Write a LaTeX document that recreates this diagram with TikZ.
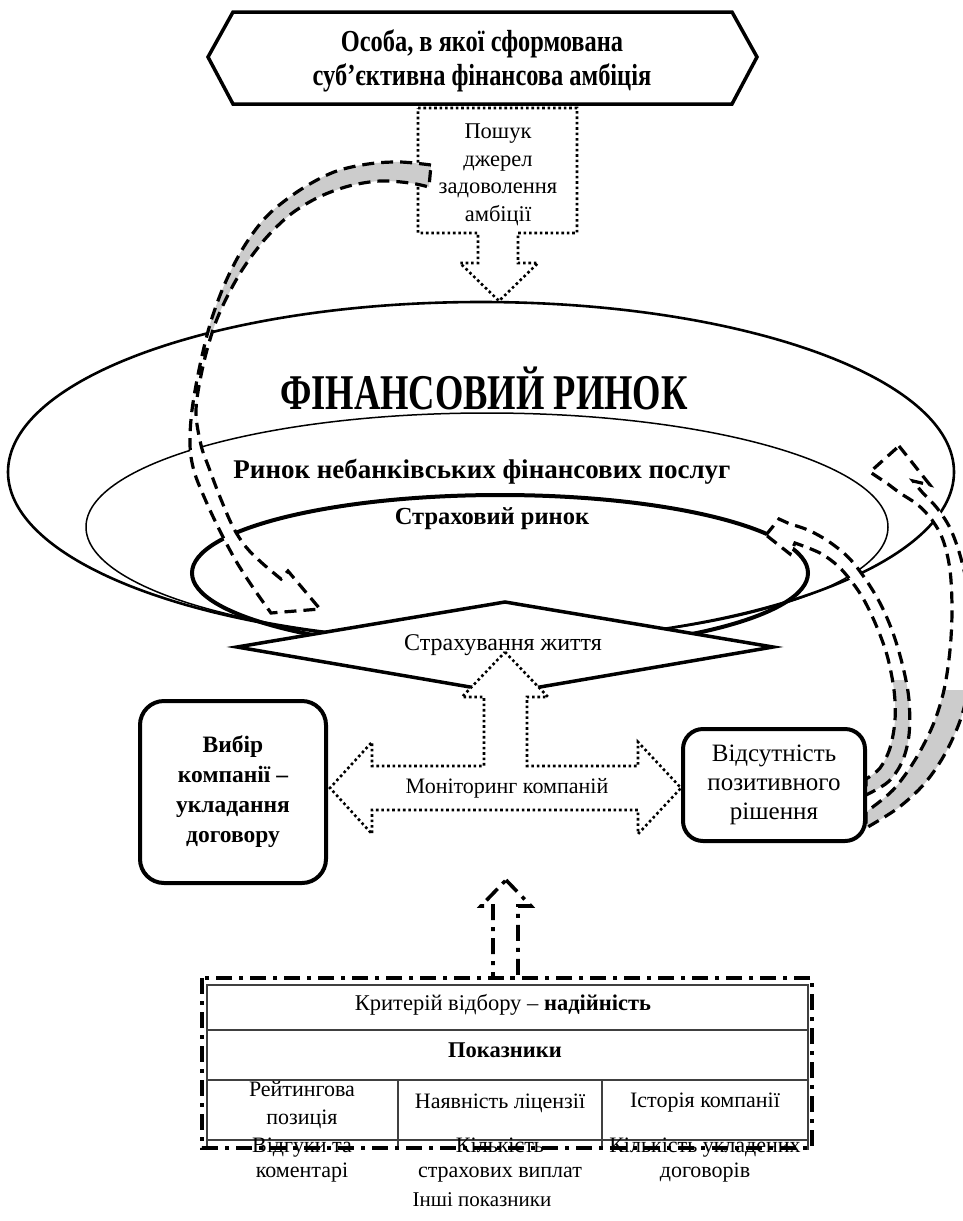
\documentclass[tikz,border=0pt]{standalone}
\usepackage{fontspec}
\setmainfont{Liberation Serif}
\newfontfamily\condA{Liberation Serif}[FakeStretch=0.73]
\newfontfamily\condB{Liberation Serif}[FakeStretch=0.8]
\usetikzlibrary{calc}
\newcommand\fsz[2]{\fontsize{#1}{#2}\selectfont}
\begin{document}
\begin{tikzpicture}[x=1pt,y=-1pt,
  heavy/.style={line width=3.5pt, line join=miter},
  dashline/.style={line width=3.2pt, dash pattern=on 12pt off 7pt, line join=miter},
  dotline/.style={line width=2.6pt, dash pattern=on 2.6pt off 2.8pt},
  dashdot/.style={line width=3.6pt, dash pattern=on 16pt off 7pt on 4pt off 7pt},
  tline/.style={line width=1.1pt, draw=black!75},
  greyfill/.style={fill=black!20},
]
\clip (0,0) rectangle (963,1221);
\fill[white] (0,0) rectangle (963,1221);

% top hexagon
\draw[heavy] (208,57) -- (233,12) -- (732,12) -- (757,57) -- (732,104) -- (233,104) -- cycle;

% dotted search arrow
\draw[dotline, fill=white] (418,108) -- (577,108) -- (577,233) -- (518,233) -- (518,263) -- (538,263) -- (499,301) -- (460,263) -- (478,263) -- (478,233) -- (418,233) -- cycle;

% ellipses
\draw[line width=2.6pt] (481,472) ellipse [x radius=473, y radius=170];
\draw[line width=1.5pt] (487,527) ellipse [x radius=401, y radius=114];
\draw[line width=4pt] (500,573) ellipse [x radius=308, y radius=78];

% curved block arrow A
\path[save path=\arrA] (431,165) -- plot[smooth, tension=0.55] coordinates {(431,165) (400,162) (368,164) (334,172) (300,190) (268,215) (245,245) (226,281) (211,321) (200,365) (192,410) (190,445) (194,471) (205,499) (219,529) (236,561) (254,589) (271,613)} -- (320,609) -- (288,571) -- (281,579) -- plot[smooth, tension=0.55] coordinates {(281,579) (262,563) (246,547) (233,527) (220,497) (209,468) (201,445) (196,410) (203,366) (214,327) (227,297) (244,267) (266,238) (291,214) (319,197) (349,186) (380,181) (410,183) (429,187)} -- cycle;
\fill[greyfill, use path=\arrA];
\begin{scope}
  \path[clip, use path=\arrA];
  \fill[white] (481,472) ellipse [x radius=473, y radius=170];
\end{scope}
\draw[dashline, use path=\arrA];

% curved block arrow B
\path[save path=\arrB] (766,535) -- (779,519) -- (790,524) -- plot[smooth, tension=0.55] coordinates {(790,524) (808,530) (828,541) (848,557) (864,577) (880,603) (893,633) (903,667) (909,700) (909,735) (902,762) (888,782) (866,795)} -- (866,779) -- plot[smooth, tension=0.55] coordinates {(866,779) (880,768) (890,748) (895,720) (894,690) (887,655) (876,625) (864,600) (852,582) (838,566) (820,553) (795,543)} -- (790,554) -- cycle;
\fill[greyfill, use path=\arrB];
\begin{scope}
  \path[clip, use path=\arrB];
  \fill[white] (481,472) ellipse [x radius=473, y radius=170];
  \fill[white] (0,0) rectangle (963,680);
\end{scope}
\draw[dashline, use path=\arrB];

% curved block arrow C
\path[save path=\arrC] (899,446) -- (930,485) -- (913,481) -- plot[smooth, tension=0.55] coordinates {(913,481) (922,492) (937,508) (950,528) (960,555) (968,590) (972,630) (970,675) (962,715) (946,752) (925,783) (898,808) (866,828)} -- (866,812) -- plot[smooth, tension=0.55] coordinates {(866,812) (893,790) (915,760) (933,725) (944,690) (950,650) (952,610) (950,570) (943,540) (932,520) (918,505) (900,493) (888,484)} -- (870,472) -- cycle;
\fill[greyfill, use path=\arrC];
\begin{scope}
  \path[clip, use path=\arrC];
  \fill[white] (481,472) ellipse [x radius=473, y radius=170];
  \fill[white] (0,0) rectangle (963,690);
\end{scope}
\draw[dashline, use path=\arrC];

% diamond
\draw[heavy, fill=white] (237,647) -- (505,602) -- (773,647) -- (505,693) -- cycle;

% dotted left-right-up arrow
\draw[dotline, fill=white] (505,652) -- (548,697) -- (527,697) -- (527,766) -- (638,766) -- (638,742) -- (681,788) -- (638,834) -- (638,810) -- (372,810) -- (372,834) -- (330,788) -- (372,742) -- (372,766) -- (484,766) -- (484,697) -- (462,697) -- cycle;

% side boxes
\node[draw, line width=4pt, rounded corners=24pt, minimum width=186pt, minimum height=182pt, align=center, font=\fsz{23.5}{30}\bfseries] (choice) at (233,792) {Вибір\\компанії –\\укладання\\договору};
\node[draw, line width=4pt, rounded corners=20pt, minimum width=182pt, minimum height=112pt, align=center, font=\fsz{25}{29}] (noresult) at (774,785) {Відсутність\\позитивного\\рішення};

% texts
\node[font=\condB\fsz{30.5}{34}\bfseries, align=center] (person) at (482,61) {Особа, в якої сформована\\суб’єктивна фінансова амбіція};
\node[font=\fsz{22.5}{27.5}, align=center] (search) at (498,175) {Пошук\\джерел\\задоволення\\амбіції};
\node[font=\condA\fsz{50}{50}\bfseries] (finmarket) at (484,388) {ФІНАНСОВИЙ РИНОК};
\node[font=\fsz{27}{30}\bfseries] (nonbank) at (482,472) {Ринок небанківських фінансових послуг};
\node[font=\fsz{24.5}{28}\bfseries] (insmarket) at (492,519) {Страховий ринок};
\node[font=\fsz{24}{28}] (life) at (503,645) {Страхування життя};
\node[font=\fsz{22}{26}] (monitor) at (507,788) {Моніторинг компаній};

% table
\draw[tline] (207,1150) -- (207,985) -- (808,985) -- (808,1150);
\draw[tline] (207,1030) -- (808,1030);
\draw[tline] (207,1080) -- (808,1080);
\draw[tline] (207,1140) -- (808,1140);
\draw[tline] (398,1080) -- (398,1150);
\draw[tline] (602,1080) -- (602,1150);
\node[font=\fsz{22.5}{26}] (crit) at (503,1005) {Критерій відбору – \textbf{надійність}};
\node[font=\fsz{22.5}{26}\bfseries] (ind) at (505,1050) {Показники};
\node[font=\fsz{22}{28}, align=center] (rating) at (302,1105) {Рейтингова\\позиція};
\node[font=\fsz{22}{28}] (licence) at (500,1103) {Наявність ліцензії};
\node[font=\fsz{22}{28}] (history) at (705,1103) {Історія компанії};
\node[font=\fsz{22}{25}, align=center] (reviews) at (302,1160) {Відгуки та\\коментарі};
\node[font=\fsz{22}{25}, align=center] (payments) at (500,1160) {Кількість\\страхових виплат};
\node[font=\fsz{22}{25}, align=center] (contracts) at (705,1160) {Кількість укладених\\договорів};
\node[font=\fsz{21}{24}] (others) at (482,1200) {Інші показники};

% dash-dot frame and small up arrow
\draw[dashdot] (202,978) rectangle (812,1148);
\draw[dashdot, line join=miter] (506,880) -- (531,906) -- (518,906) -- (518,978) -- (493,978) -- (493,906) -- (481,906) -- cycle;
\end{tikzpicture}
\end{document}
